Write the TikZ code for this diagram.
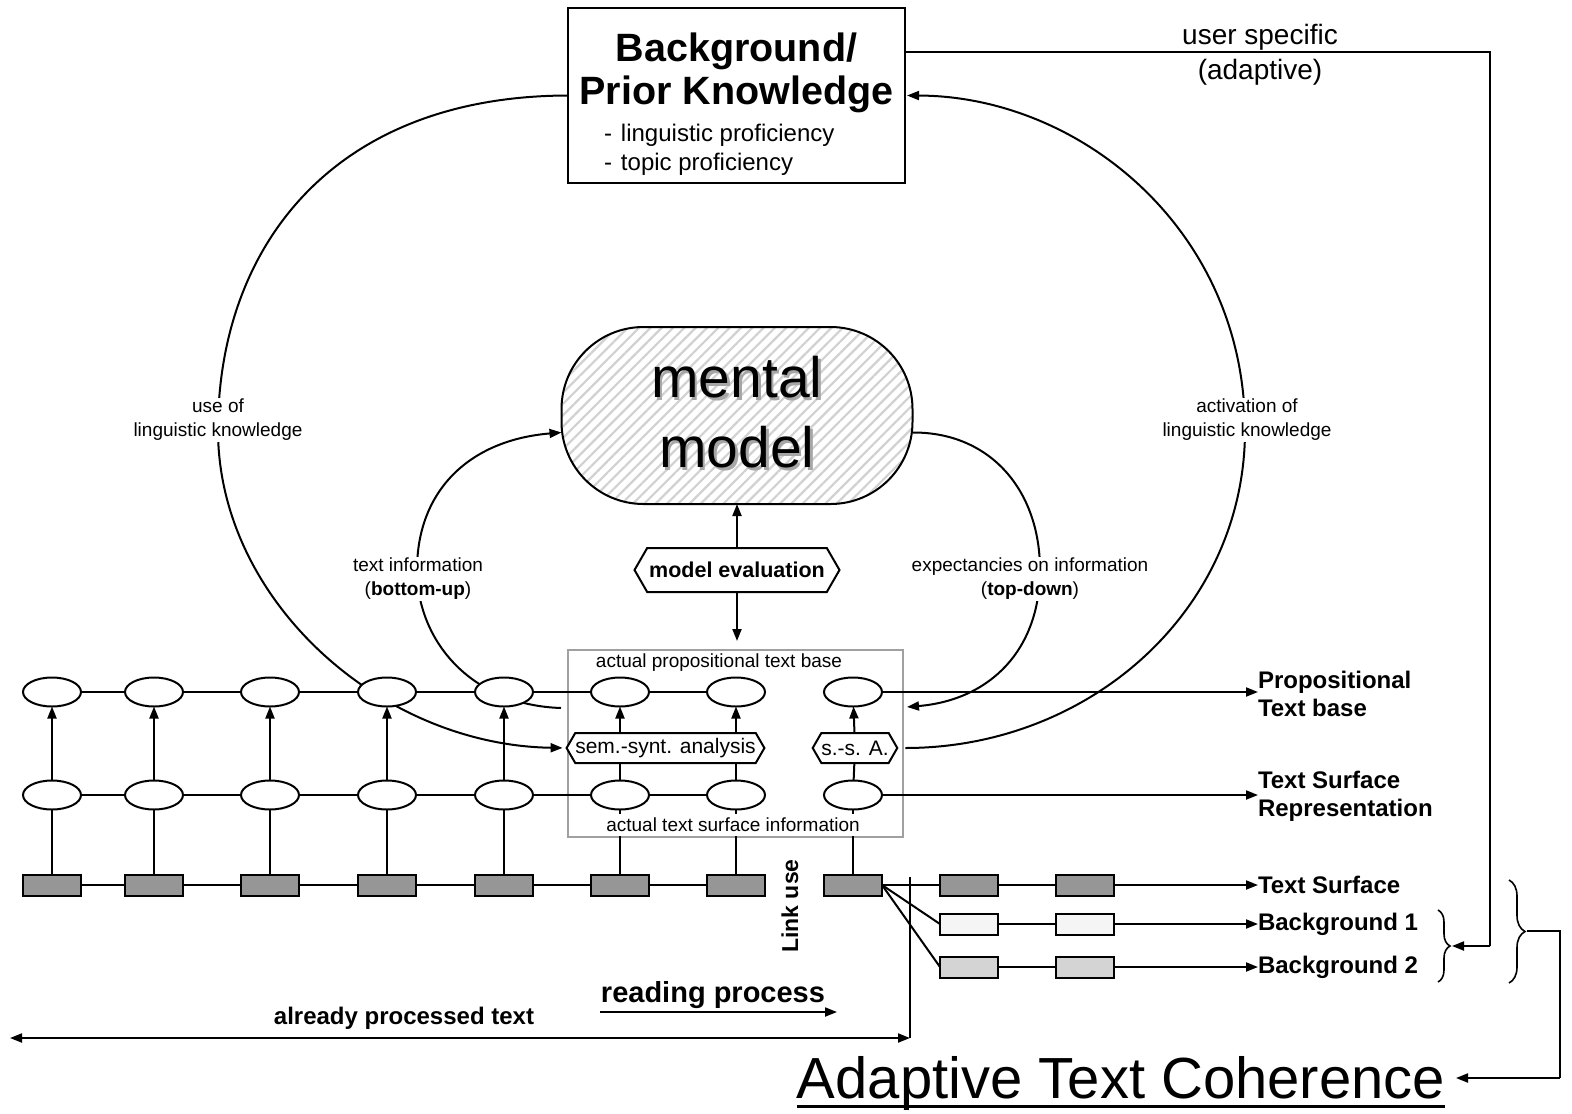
\documentclass[tikz,border=0pt]{standalone}
\usepackage{fontspec}
\setmainfont{Liberation Sans}
\usetikzlibrary{arrows.meta,shapes.symbols,shapes.geometric,decorations.pathreplacing,patterns.meta,calc}
\pgfdeclarelayer{bg}
\pgfsetlayers{bg,main}
\definecolor{dkgray}{RGB}{150,150,150}
\definecolor{ltone}{RGB}{245,245,245}
\definecolor{lttwo}{RGB}{212,212,212}
\definecolor{framegray}{RGB}{160,160,160}
\begin{document}
\begin{tikzpicture}[x=1pt,y=-1pt,
  every node/.style={inner sep=0pt, outer sep=0pt},
  conn/.style={line width=2pt},
  arr/.style={line width=2pt, -{Triangle[length=12pt,width=9pt]}},
  ell/.style={draw, ellipse, line width=2pt, fill=white, minimum width=58pt, minimum height=29pt},
  blk/.style={draw, line width=2pt, minimum width=58pt, minimum height=21pt},
  hexa/.style={draw, shape=signal, signal to=east and west, signal pointer angle=120, line width=2pt, fill=white},
  lbl/.style={font=\fontsize{19}{24}\selectfont, align=center, fill=white, inner sep=1pt},
  side/.style={font=\fontsize{24}{28}\selectfont\bfseries, align=left, anchor=west},
]
\useasboundingbox (0,0) rectangle (1572,1114);

% top box
\node[draw, line width=2.2pt, minimum width=337pt, minimum height=175pt] (bk) at (736.5,95.5) {};
\node[anchor=base, font=\fontsize{39.5}{39.5}\selectfont\bfseries] (bkA) at (736.5,61) {Background/};
\node[anchor=base, font=\fontsize{39.5}{39.5}\selectfont\bfseries] (bkB) at (736.5,104) {Prior Knowledge};
\node[anchor=base west, font=\fontsize{24}{24}\selectfont] (bkC) at (604,141) {-\hspace{9pt}linguistic proficiency};
\node[anchor=base west, font=\fontsize{24}{24}\selectfont] (bkD) at (604,170) {-\hspace{9pt}topic proficiency};

% user specific
\coordinate (ca) at (1490,52);
\coordinate (cb) at (1490,946);
\coordinate (bta) at (1452,946);
\draw[conn] (bk.east |- ca) -- (ca) -- (cb);
\draw[arr] (cb) -- (bta);
\node[font=\fontsize{28}{28}\selectfont] (us) at (1260,37) {user specific};
\node[font=\fontsize{28}{28}\selectfont] (ad) at (1260,72) {(adaptive)};

% mental model
\node[draw, line width=2pt, rounded corners=82pt, minimum width=351pt, minimum height=177pt,
  pattern={Lines[angle=45,distance=8pt,line width=2.2pt]}, pattern color=black!18] (mm) at (737,415.5) {};
\node[anchor=base, text=black!35, font=\fontsize{57}{57}\selectfont] (mmsA) at (739.5,400) {mental};
\node[anchor=base, text=black!35, font=\fontsize{57}{57}\selectfont] (mmsB) at (739.5,470) {model};
\node[anchor=base, font=\fontsize{57}{57}\selectfont] (mmA) at (737,397) {mental};
\node[anchor=base, font=\fontsize{57}{57}\selectfont] (mmB) at (737,467) {model};

% model evaluation
\node[hexa, minimum width=205pt, minimum height=44pt, font=\fontsize{21.5}{21.5}\selectfont\bfseries] (me) at (737,570) {model evaluation};

% frame
\node[draw=framegray, line width=1.6pt, minimum width=335pt, minimum height=187pt] (frame) at (735.5,743.5) {};
\node[font=\fontsize{19}{19}\selectfont] (ftop) at (719,663) {actual propositional text base};

\draw[arr] (me) -- (mm);
\draw[arr, shorten >=9pt] (me) -- (me |- frame.north);

% chain nodes
\foreach \i/\x in {1/52,2/154,3/270,4/387,5/504,6/620,7/736,8/853} {
  \node[ell] (e\i) at (\x,692) {};
  \node[ell] (f\i) at (\x,795) {};
  \node[blk, fill=dkgray] (r\i) at (\x,885) {};
}
\node[hexa, minimum width=197pt, minimum height=30pt, font=\fontsize{21}{21}\selectfont] (ssa) at (665.5,748) {sem.-synt. analysis};
\node[hexa, minimum width=84pt, minimum height=30pt, font=\fontsize{21}{21}\selectfont] (ssb) at (855,748) {s.-s. A.};

\foreach \a/\b in {1/2,2/3,3/4,4/5,5/6,6/7} {
  \draw[conn] (e\a) -- (e\b);
  \draw[conn] (f\a) -- (f\b);
  \draw[conn] (r\a) -- (r\b);
}
\foreach \i in {1,...,5} {
  \draw[arr] (f\i) -- (e\i);
}
\foreach \i in {1,...,8} {
  \draw[conn] (r\i) -- (f\i);
}
\foreach \i in {6,7} {
  \draw[conn] (f\i) -- (f\i |- ssa.south);
  \draw[arr] (e\i |- ssa.north) -- (e\i);
}
\draw[conn] (f8) -- (ssb);
\draw[arr] (ssb) -- (e8);
\node[font=\fontsize{19}{19}\selectfont, fill=white, inner xsep=2pt, inner ysep=4pt] (fbot) at (733,825) {actual text surface information};

% right labels
\node[side] (ptb) at (1258,694) {Propositional\\Text base};
\node[side] (tsr) at (1258,796) {Text Surface\\Representation};
\node[side] (ts) at (1258,885) {Text Surface};
\node[side] (bga) at (1258,924) {Background 1};
\node[side] (bgb) at (1258,967) {Background 2};
\draw[arr] (e8) -- (e8 -| ptb.west);
\draw[arr] (f8) -- (f8 -| tsr.west);

% text surface / background rows
\node[blk, fill=dkgray] (r9) at (969,885) {};
\node[blk, fill=dkgray] (r10) at (1085,885) {};
\node[blk, fill=ltone] (pa) at (969,924) {};
\node[blk, fill=ltone] (pb) at (1085,924) {};
\node[blk, fill=lttwo] (qa) at (969,967) {};
\node[blk, fill=lttwo] (qb) at (1085,967) {};
\draw[conn] (r8) -- (r9);
\draw[conn] (r9) -- (r10);
\draw[arr] (r10) -- (r10 -| ts.west);
\draw[conn] (r8.east) -- (pa.west);
\draw[conn] (r8.east) -- (qa.west);
\draw[conn] (pa) -- (pb);
\draw[conn] (qa) -- (qb);
\draw[arr] (pb) -- (pb -| bga.west);
\draw[arr] (qb) -- (qb -| bgb.west);

% braces
\draw[line width=1.6pt, decorate, decoration={brace, amplitude=12pt}] (1438,910) -- (1438,982);
\draw[line width=1.6pt, decorate, decoration={brace, amplitude=16pt}] (1509,880) -- (1509,983);
\coordinate (btb) at (1527,931);
\coordinate (cc) at (1560,931);
\coordinate (cd) at (1560,1078);
\node[anchor=base, font=\fontsize{58}{58}\selectfont] (atc) at (1121,1098) {Adaptive Text Coherence};
\draw[line width=3pt] ([yshift=-8pt]atc.base west) -- ([yshift=-8pt]atc.base east);
\coordinate (ce) at (1456,1078);
\draw[conn] (btb) -- (cc) -- (cd);
\draw[arr] (cd) -- (ce);

% link use and process
\node[rotate=90, font=\fontsize{23}{23}\selectfont\bfseries] (lu) at (790,906) {Link use};
\coordinate (vt) at (910,877);
\coordinate (vb) at (910,1038);
\coordinate (vl) at (10,1038);
\draw[conn] (vt) -- (vb);
\draw[line width=2pt, {Triangle[length=12pt,width=9pt]}-{Triangle[length=12pt,width=9pt]}] (vl) -- (vb);
\node[font=\fontsize{24}{24}\selectfont\bfseries] (apt) at (404,1018) {already processed text};
\node[font=\fontsize{29}{29}\selectfont\bfseries] (rp) at (713,995) {reading process};
\coordinate (rpa) at (600,1012);
\coordinate (rpb) at (837,1012);
\draw[arr] (rpa) -- (rpb);

% curve labels
\node[lbl] (lk) at (218,420) {use of\\linguistic knowledge};
\node[lbl] (ak) at (1247,420) {activation of\\linguistic knowledge};
\node[lbl] (ti) at (418,579) {text information\\(\textbf{bottom-up})};
\node[lbl] (ei) at (1030,579) {expectancies on information\\(\textbf{top-down})};

% curves
\coordinate (bu) at (561,708);
\coordinate (td) at (907,707);
\begin{pgfonlayer}{bg}
\draw[arr, shorten >=4pt] (bk.west) .. controls (330,96) and (218,250) .. (218,430) .. controls (218,600) and (380,745) .. (ssa.west);
\draw[arr, shorten >=2pt] ([xshift=8pt]ssb.east) .. controls (1090,748) and (1245,610) .. (1245,430) .. controls (1245,230) and (1080,96) .. (bk.east);
\draw[arr] (bu) .. controls (470,705) and (417,640) .. (417,570) .. controls (417,490) and (470,440) .. ([yshift=-17pt]mm.west);
\draw[arr] ([yshift=-17pt]mm.east) .. controls (990,432) and (1040,490) .. (1040,570) .. controls (1040,650) and (990,700) .. (td);
\end{pgfonlayer}
\end{tikzpicture}
\end{document}
